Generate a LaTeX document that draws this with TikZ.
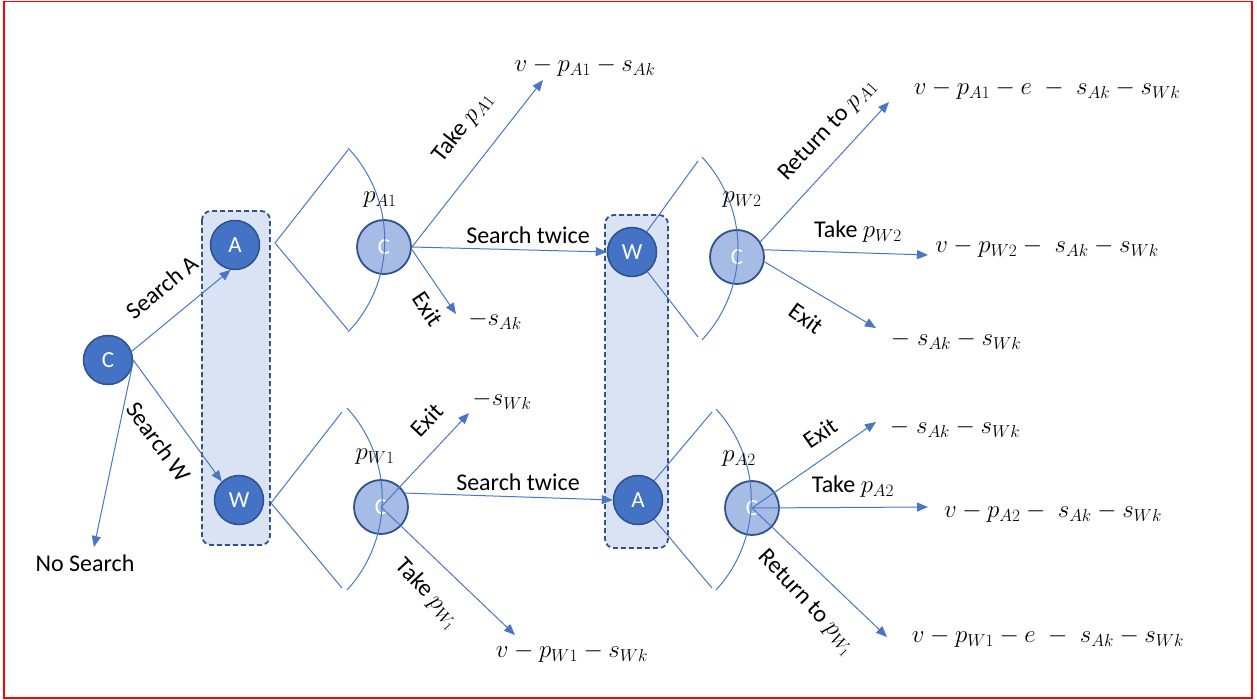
\documentclass[tikz,border=0pt]{standalone}
\usepackage{fontspec}
\setmainfont{Carlito}
\usetikzlibrary{arrows.meta,calc}
\definecolor{lineblue}{HTML}{4A76C6}
\definecolor{darkfill}{HTML}{4472C4}
\definecolor{darkedge}{HTML}{2F528F}
\definecolor{lightfill}{HTML}{A6BCE4}
\definecolor{boxfill}{HTML}{DAE3F3}
\definecolor{framered}{HTML}{FF0000}
\begin{document}
\begin{tikzpicture}[x=1pt,y=-1pt,
  dnode/.style={circle,fill=darkfill,draw=darkedge,line width=1.5pt,minimum size=49pt,inner sep=0pt,text=white,font=\fontsize{23}{27}\selectfont},
  lnode/.style={circle,fill=lightfill,draw=darkedge,line width=1.8pt,minimum size=54pt,inner sep=0pt,text=white,font=\fontsize{23}{27}\selectfont},
  conn/.style={draw=lineblue,line width=1pt,-{Triangle[length=11pt,width=9pt]}},
  wedge/.style={draw=lineblue,line width=1pt},
  lbl/.style={font=\fontsize{24}{28}\selectfont,inner sep=0pt},
  mlbl/.style={font=\fontsize{25}{30}\selectfont,inner sep=0pt},
  groupbox/.style={draw=darkedge,fill=boxfill,dash pattern=on 5pt off 3pt,line width=1.8pt,rounded corners=9pt},
]
\useasboundingbox (0,0) rectangle (1257,700);
\draw[framered,line width=1.5pt] (4,1.5) rectangle (1252,698);

% group boxes
\path[groupbox] (202,211) rectangle (270,545);
\path[groupbox] (605,215) rectangle (668,548);

% nodes
\node[dnode] (root) at (108,360) {C};
\node[dnode] (A1) at (235,245) {A};
\node[dnode] (W1) at (239,500) {W};
\node[lnode] (C1) at (384,247) {C};
\node[lnode] (C3) at (381,507) {C};
\node[dnode] (W2) at (632,252) {W};
\node[dnode] (A2) at (638,500) {A};
\node[lnode] (C2) at (737,257) {C};
\node[lnode] (C4) at (752,508) {C};

% wedges (angle marks)
\coordinate (v1) at (275,243);
\coordinate (v1a) at (348,150);
\coordinate (v1b) at (348,330);
\draw[wedge] (v1a) -- (v1) -- (v1b);
\coordinate (v3) at (271,503);
\coordinate (v3a) at (342,412);
\coordinate (v3b) at (342,588);
\draw[wedge] (v3a) -- (v3) -- (v3b);
\coordinate (v2a) at (698,161);
\coordinate (v2b) at (698,337);
\draw[wedge] (W2.54) -- (v2a);
\draw[wedge] (W2.-52) -- (v2b);
\coordinate (v4a) at (712,412);
\coordinate (v4b) at (712,588);
\draw[wedge] (A2.50) -- (v4a);
\draw[wedge] (A2.-50) -- (v4b);

% arcs
\draw[wedge] (348,148) .. controls (397,200) and (397,281) .. (348,332);
\draw[wedge] (702,157) .. controls (750,209) and (750,288) .. (702,340);
\draw[wedge] (347,408) .. controls (394,459) and (394,539) .. (347,590);
\draw[wedge] (716,409) .. controls (763,460) and (763,539) .. (716,590);

% connectors from root
\node[lbl] (ns) at (85,563) {No Search};
\coordinate (nsTip) at (94,547);
\draw[conn] (root.20) -- (A1.-100);
\draw[conn] (root.east) -- (W1.133);
\draw[conn] (root.-3) -- (nsTip);

% upper C1
\coordinate (tA1) at (543,80);
\coordinate (eA1) at (456,314);
\draw[conn] (C1.east) -- (tA1);
\draw[conn] (C1.east) -- (W2.west);
\draw[conn] (C1.-5) -- (eA1);

% lower C3
\coordinate (eW1) at (469,413);
\coordinate (tW1) at (515,635);
\draw[conn] (C3.center) -- (eW1);
\draw[conn] (C3.30) -- (A2.west);
\draw[conn] (C3.center) -- (tW1);

% C2
\coordinate (rA1) at (889,102);
\coordinate (tW2) at (928,255);
\coordinate (eW2) at (876,328);
\draw[conn] (C2.33) -- (rA1);
\draw[conn] (C2.15) -- (tW2);
\draw[conn] (C2.-10) -- (eW2);

% C4
\coordinate (eA2) at (876,422);
\coordinate (tA2) at (928,507);
\coordinate (rW1) at (887,637);
\draw[conn] (C4.center) -- (eA2);
\draw[conn] (C4.center) -- (tA2);
\draw[conn] (C4.center) -- (rW1);

% labels
\node[lbl,rotate=40] (lSA) at (162,287) {Search A};
\node[lbl,rotate=-54] (lSW) at (159,442) {Search W};
\node[mlbl] (pA1) at (380,200) {$p_{A1}$};
\node[lbl,rotate=52] (lTA1) at (463,127) {Take $p_{A1}$};
\node[lbl] (lST1) at (528,235) {Search twice};
\node[lbl,rotate=-56] (lEx1) at (428,309) {Exit};
\node[mlbl] (oSA) at (495,320) {$-s_{Ak}$};
\node[mlbl] (oTA1) at (585,67) {$v-p_{A1}-s_{Ak}$};

\node[mlbl] (pW1) at (375,457) {$p_{W1}$};
\node[lbl,rotate=47] (lEx3) at (427,420) {Exit};
\node[mlbl] (oSW) at (502,400) {$-s_{Wk}$};
\node[lbl] (lST2) at (518,482) {Search twice};
\node[lbl,rotate=-47] (lTW1) at (427,594) {Take $p_{W_1}$};
\node[mlbl] (oTW1) at (572,653) {$v-p_{W1}-s_{Wk}$};

\node[mlbl] (pW2) at (742,200) {$p_{W2}$};
\node[lbl,rotate=47] (lRA1) at (828,130) {Return to $p_{A1}$};
\node[lbl] (lTW2) at (858,232) {Take $p_{W2}$};
\node[lbl,rotate=-36] (lEx2) at (806,318) {Exit};
\node[mlbl] (oRA1) at (1047,90) {$v-p_{A1}-e\;-\;s_{Ak}-s_{Wk}$};
\node[mlbl] (oTW2) at (1047,248) {$v-p_{W2}-\;s_{Ak}-s_{Wk}$};
\node[mlbl] (oEx2) at (956,340) {$-\;s_{Ak}-s_{Wk}$};

\node[mlbl] (pA2) at (739,459) {$p_{A2}$};
\node[lbl,rotate=35] (lEx4) at (820,433) {Exit};
\node[mlbl] (oEx4) at (955,428) {$-\;s_{Ak}-s_{Wk}$};
\node[lbl] (lTA2) at (853,487) {Take $p_{A2}$};
\node[mlbl] (oTA2) at (1053,513) {$v-p_{A2}-\;s_{Ak}-s_{Wk}$};
\node[lbl,rotate=-47] (lRW1) at (806,603) {Return to $p_{W_1}$};
\node[mlbl] (oRW1) at (1048,638) {$v-p_{W1}-e\;-\;s_{Ak}-s_{Wk}$};
\end{tikzpicture}
\end{document}
